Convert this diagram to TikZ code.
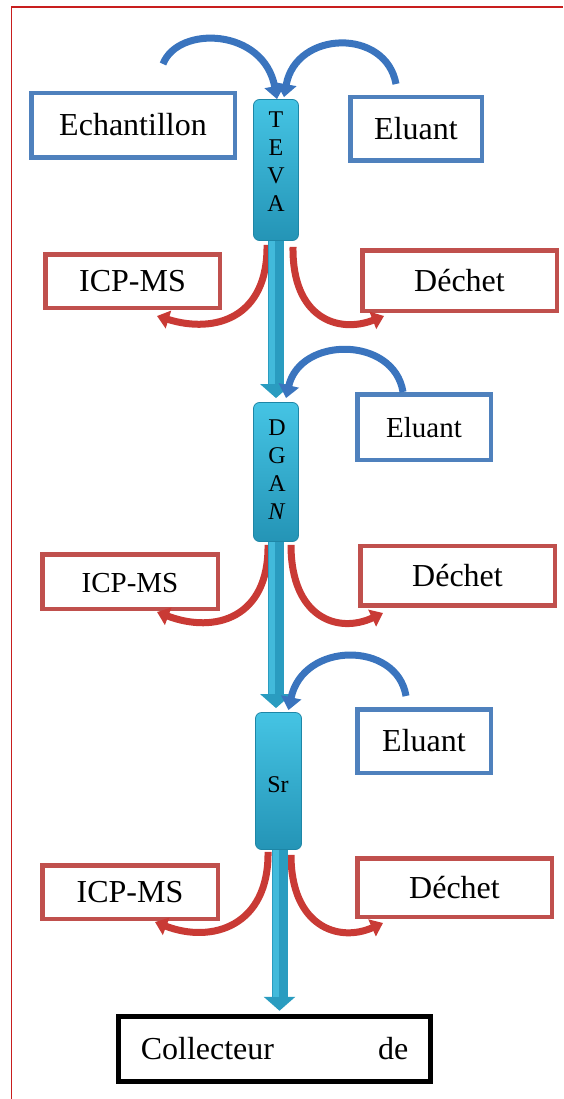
\documentclass[tikz,border=0pt]{standalone}
\usepackage{fontspec}
\setmainfont{Liberation Serif}
\usetikzlibrary{arrows.meta}
\definecolor{boxblue}{HTML}{4F81BD}
\definecolor{boxred}{HTML}{C0504D}
\definecolor{arrblue}{HTML}{3A74BE}
\definecolor{arrred}{HTML}{C93A35}
\definecolor{colA}{HTML}{45C4E4}
\definecolor{colB}{HTML}{2494B6}
\definecolor{colEdge}{HTML}{1E86A6}
\definecolor{shaftc}{HTML}{2A9CC0}
\definecolor{shaftl}{HTML}{42BADB}
\definecolor{framered}{HTML}{C81E1E}
\begin{document}
\begin{tikzpicture}[x=1pt,y=-1pt,
  lbl/.style={font=\fontsize{32}{36}\selectfont, text height=21pt, text depth=0pt, inner sep=0pt},
  bluebox/.style={lbl, draw=boxblue, line width=4.5pt, fill=white},
  redbox/.style={lbl, draw=boxred, line width=4.5pt, fill=white},
  blackbox/.style={lbl, draw=black, line width=5pt, fill=white},
  column/.style={draw=colEdge, line width=0.8pt, rounded corners=6pt, top color=colA, bottom color=colB, inner sep=0pt},
  colletters/.style={font=\fontsize{24}{28}\selectfont, align=center, inner sep=0pt},
  bluearr/.style={draw=arrblue, line width=7pt, -{Triangle[width=20pt,length=13pt]}},
  redarr/.style={draw=arrred, line width=7pt, -{Triangle[width=18pt,length=12pt]}},
  shaft/.style={draw=shaftc, line width=16pt, -{Triangle[width=31pt,length=14pt]}},
  shaftlight/.style={draw=shaftl, line width=6pt},
]
\useasboundingbox (0,0) rectangle (563,1099);
% frame
\draw[framered, line width=1.2pt] (11.5,1099) -- (11.5,7) -- (563,7);

% boxes
\node[bluebox, minimum width=203.5pt, minimum height=64.5pt] (ech) at (133,125.5) {Echantillon};
\node[bluebox, minimum width=131.5pt, minimum height=63.5pt] (elu1) at (416,129) {Eluant};
\node[redbox, minimum width=174.5pt, minimum height=53.5pt] (icp1) at (132.5,281) {ICP-MS};
\node[redbox, minimum width=194.5pt, minimum height=60.5pt] (dec1) at (459.5,280.5) {Déchet};

\node[bluebox, font=\fontsize{29}{34}\selectfont, minimum width=133.5pt, minimum height=65.5pt] (elu2) at (424,427) {Eluant};
\node[redbox, font=\fontsize{29}{34}\selectfont, minimum width=175.5pt, minimum height=54.5pt] (icp2) at (130,581.5) {ICP-MS};
\node[redbox, minimum width=194.5pt, minimum height=59.5pt] (dec2) at (457.5,575.5) {Déchet};

\node[bluebox, minimum width=133.5pt, minimum height=63.5pt] (elu3) at (424,741) {Eluant};
\node[redbox, minimum width=175.5pt, minimum height=53.5pt] (icp3) at (130,892) {ICP-MS};
\node[redbox, minimum width=194.5pt, minimum height=58.5pt] (dec3) at (454.5,887.5) {Déchet};

\node[blackbox, minimum width=312.5pt, minimum height=65.5pt] (coll) at (274.5,1049) {Collecteur\hspace{96pt} de};

% columns
\node[column, minimum width=45pt, minimum height=141pt] (teva) at (276,170) {};
\node[colletters] (tevalbl) at (276,162) {T\\E\\V\\A};
\node[column, minimum width=45pt, minimum height=139pt] (dgan) at (276,472) {};
\node[colletters] (dganlbl) at (277,470) {D\\G\\A\\\textit{N}};
\node[column, minimum width=46pt, minimum height=137pt] (sr) at (278.5,781) {};
\node[colletters] (srlbl) at (278,785) {Sr};

% red outlet arrows
\draw[redarr] ([xshift=-9pt,yshift=-4pt]teva.south) .. controls (268,318) and (215,334) .. (157,316);
\draw[redarr] ([xshift=17pt,yshift=-6pt]teva.south) .. controls (292,318) and (338,334) .. (384,316);
\draw[redarr] ([xshift=-8pt,yshift=-3pt]dgan.south) .. controls (269,618) and (215,634) .. (157,612);
\draw[redarr] ([xshift=15pt,yshift=-3pt]dgan.south) .. controls (291,618) and (338,634) .. (383,613);
\draw[redarr] ([xshift=-10.5pt,yshift=-2pt]sr.south) .. controls (269,926) and (212,944) .. (155,922);
\draw[redarr] ([xshift=12.5pt,yshift=-5pt]sr.south) .. controls (291,926) and (338,943) .. (383,923);

% vertical flow arrows
\draw[shaft, shorten >=4pt] (teva.south) -- (dgan.north);
\draw[shaftlight] ([xshift=-4pt]teva.south) -- ([xshift=-4pt,yshift=18pt]dgan.north);
\draw[shaft, shorten >=4pt] (dgan.south) -- (dgan.south |- sr.north);
\draw[shaftlight] ([xshift=-4pt]dgan.south) -- ([xshift=-4pt,yshift=18pt]dgan.south |- sr.north);
\draw[shaft, shorten >=3pt] ([xshift=1pt]sr.south) -- ([xshift=1pt]sr.south |- coll.north);
\draw[shaftlight] ([xshift=-3pt]sr.south) -- ([xshift=-3pt,yshift=17pt]sr.south |- coll.north);

% blue inlet arrows
\coordinate (t1) at (163,64);
\coordinate (t2) at (396,84);
\coordinate (t3) at (403,392);
\coordinate (t4) at (406,696);
\draw[bluearr] (t1) .. controls (178,25) and (264,28) .. ([xshift=1pt]teva.north);
\draw[bluearr] (t2) .. controls (386,28) and (296,30) .. ([xshift=8pt,yshift=2pt]teva.north);
\draw[bluearr] (t3) .. controls (394,336) and (300,336) .. ([xshift=10pt,yshift=4pt]dgan.north);
\draw[bluearr] (t4) .. controls (397,641) and (303,641) .. ([xshift=10pt,yshift=2pt]sr.north);
\end{tikzpicture}
\end{document}
